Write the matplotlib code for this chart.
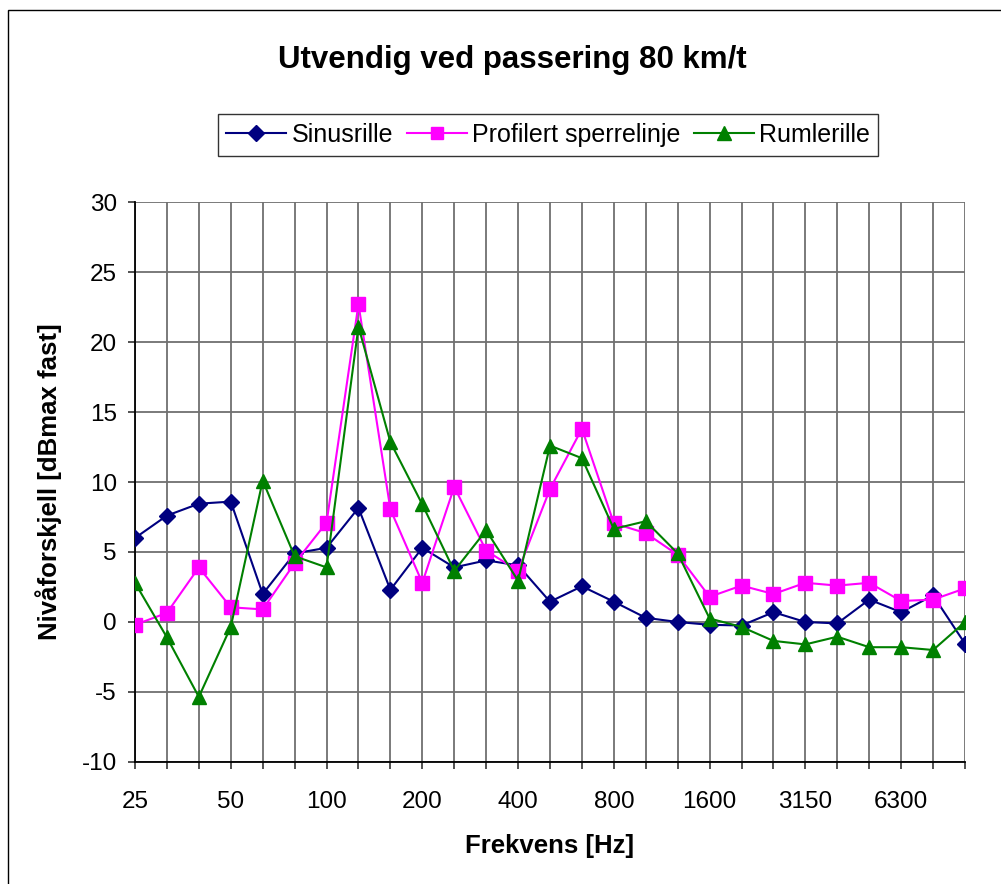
import matplotlib.pyplot as plt
from matplotlib.patches import Rectangle

plt.rcParams['font.family'] = ['Liberation Sans', 'DejaVu Sans']
plt.rcParams['axes.unicode_minus'] = False

# 1/3-octave bands
freq = ["25", "31.5", "40", "50", "63", "80", "100", "125", "160", "200",
        "250", "315", "400", "500", "630", "800", "1000", "1250", "1600",
        "2000", "2500", "3150", "4000", "5000", "6300", "8000", "10000"]
shown_labels = ["25", "50", "100", "200", "400", "800", "1600", "3150", "6300"]

sinusrille = [6.0, 7.6, 8.45, 8.6, 2.0, 4.9, 5.3, 8.15, 2.3, 5.3,
              3.9, 4.4, 4.05, 1.45, 2.55, 1.45, 0.3, 0.0, -0.2, -0.25,
              0.7, 0.0, -0.1, 1.6, 0.7, 1.9, -1.55]
profilert = [-0.2, 0.65, 3.9, 1.05, 0.9, 4.2, 7.1, 22.7, 8.05, 2.8,
             9.65, 5.1, 3.65, 9.5, 13.8, 7.05, 6.35, 4.8, 1.8, 2.6,
             2.0, 2.8, 2.6, 2.8, 1.5, 1.6, 2.4]
rumlerille = [2.8, -1.1, -5.35, -0.35, 10.1, 4.7, 3.9, 21.1, 12.85, 8.4,
              3.65, 6.55, 2.95, 12.6, 11.7, 6.65, 7.2, 4.9, 0.25, -0.35,
              -1.35, -1.6, -1.05, -1.8, -1.8, -2.0, 0.0]

fig = plt.figure(figsize=(10.01, 8.84), dpi=100)
fig.patches.append(Rectangle((8 / 1001, -0.01), 1.0, 1 - 10 / 884 + 0.01,
                             transform=fig.transFigure, fill=False,
                             edgecolor='black', linewidth=1.0))

ax = fig.add_axes([135 / 1001, 1 - 762 / 884, 830 / 1001, 560 / 884])
x = list(range(len(freq)))

ax.plot(x, sinusrille, color='#000080', marker='D', markersize=8.5,
        linewidth=1.5, label='Sinusrille', zorder=3)
ax.plot(x, profilert, color='#FF00FF', marker='s', markersize=9.5,
        linewidth=1.5, label='Profilert sperrelinje', zorder=3)
ax.plot(x, rumlerille, color='#008000', marker='^', markersize=10.5,
        linewidth=1.5, label='Rumlerille', zorder=3)

ax.set_xlim(0, len(freq) - 1)
ax.set_ylim(-10, 30)
ax.set_yticks(range(-10, 31, 5))
ax.set_xticks(x)
ax.set_xticklabels([f if f in shown_labels else "" for f in freq])
ax.tick_params(axis='both', labelsize=17.5, direction='out', length=5,
               width=1.2, color='#333333')
ax.tick_params(axis='y', pad=8)
ax.tick_params(axis='x', pad=16)

ax.grid(True, color='#707070', linewidth=1.3)
ax.set_axisbelow(True)
for side in ['top', 'right']:
    ax.spines[side].set_visible(False)
for side in ['left', 'bottom']:
    ax.spines[side].set_color('black')
    ax.spines[side].set_linewidth(1.3)

ax.set_xlabel('Frekvens [Hz]', fontsize=18.5, fontweight='bold', labelpad=15)
ax.set_ylabel('Nivåforskjell [dBmax fast]', fontsize=18.5, fontweight='bold',
              labelpad=14)

fig.text(512 / 1001, 1 - 60 / 884, 'Utvendig ved passering 80 km/t',
         ha='center', va='center', fontsize=22.5, fontweight='bold')

leg = fig.legend(loc='center', bbox_to_anchor=(548 / 1001, 1 - 135 / 884),
                 ncol=3, fontsize=18, frameon=True, fancybox=False,
                 edgecolor='black', handlelength=2.4, handletextpad=0.2,
                 columnspacing=0.55, borderpad=0.35, markerscale=0.9)
leg.get_frame().set_linewidth(1.0)

fig.savefig('out.png', dpi=100)
